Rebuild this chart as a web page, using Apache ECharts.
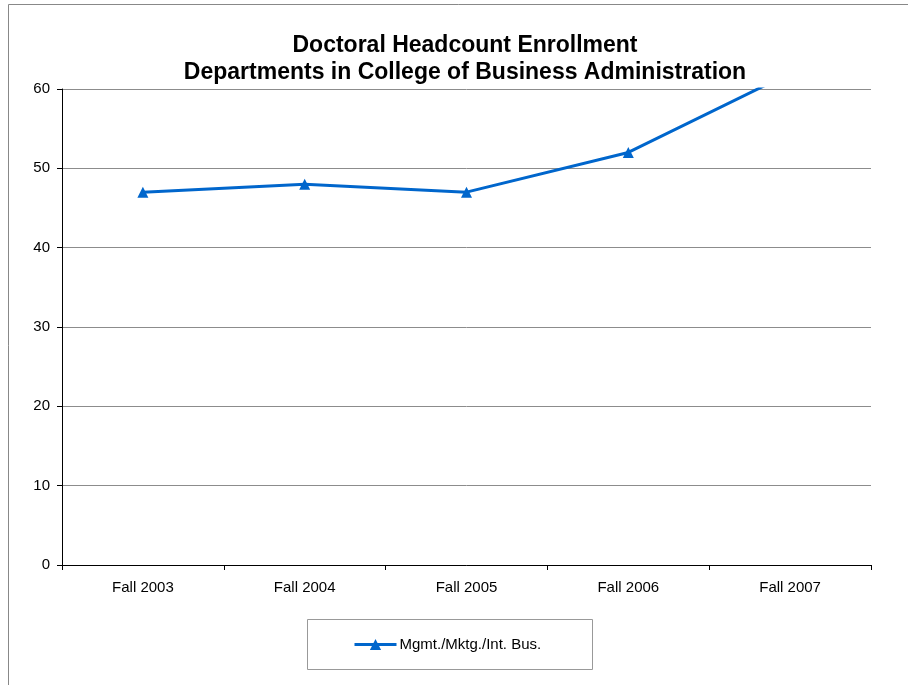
<!DOCTYPE html>
<html><head><meta charset="utf-8">
<script src="https://cdn.jsdelivr.net/npm/echarts@6/dist/echarts.min.js"></script>
<style>html,body{margin:0;padding:0;background:#fff}#c{width:908px;height:685px}</style>
</head><body><div id="c"></div>
<script>
const categories = ['Fall 2003', 'Fall 2004', 'Fall 2005', 'Fall 2006', 'Fall 2007'];
const seriesName = 'Mgmt./Mktg./Int. Bus.';
const values = [47, 48, 47, 52, 62];
const titleLines = ['Doctoral Headcount Enrollment', 'Departments in College of Business Administration'];

const chart = echarts.init(document.getElementById('c'), null, {renderer: 'canvas'});
const font = 'Arial, "Liberation Sans", sans-serif';
chart.setOption({
  animation: false,
  backgroundColor: '#fff',
  graphic: [
    {type: 'rect', shape: {x: 8.5, y: 4.5, width: 920, height: 700}, style: {fill: 'none', stroke: '#888', lineWidth: 1}, silent: true},
    {type: 'rect', shape: {x: 307.5, y: 619.5, width: 285, height: 50}, style: {fill: '#fff', stroke: '#999', lineWidth: 1}, silent: true, z: -1}
  ],
  title: {
    text: titleLines.join('\n'),
    left: 460, top: 27, textAlign: 'center',
    textStyle: {fontFamily: font, fontSize: 23, fontWeight: 'bold', color: '#000', lineHeight: 27}
  },
  legend: {
    data: [{name: seriesName}],
    left: 353, top: 637, padding: 0, itemWidth: 42, itemHeight: 14, itemGap: 2,
    lineStyle: {width: 3},
    textStyle: {fontFamily: font, fontSize: 15, color: '#000', padding: [0,0,0,-2]}
  },
  grid: {left: 62, right: 37, top: 89, bottom: 120, containLabel: false},
  xAxis: {
    type: 'category', data: categories, boundaryGap: true,
    axisLine: {lineStyle: {color: '#000', width: 1}},
    axisTick: {show: true, length: 5, inside: false, lineStyle: {color: '#000'}},
    axisLabel: {fontFamily: font, fontSize: 15, color: '#000', margin: 15},
    splitLine: {show: false}
  },
  yAxis: {
    type: 'value', min: 0, max: 60, interval: 10,
    axisLine: {show: true, lineStyle: {color: '#000', width: 1}},
    axisTick: {show: true, length: 5, lineStyle: {color: '#000'}},
    axisLabel: {fontFamily: font, fontSize: 15, color: '#000', margin: 12},
    splitLine: {show: true, lineStyle: {color: '#8c8c8c', width: 1}}
  },
  series: [{
    name: seriesName, type: 'line', data: values,
    clip: true,
    symbol: 'triangle', symbolSize: 11,
    lineStyle: {color: '#0066CC', width: 3},
    itemStyle: {color: '#0066CC'}
  }]
});
</script></body></html>
